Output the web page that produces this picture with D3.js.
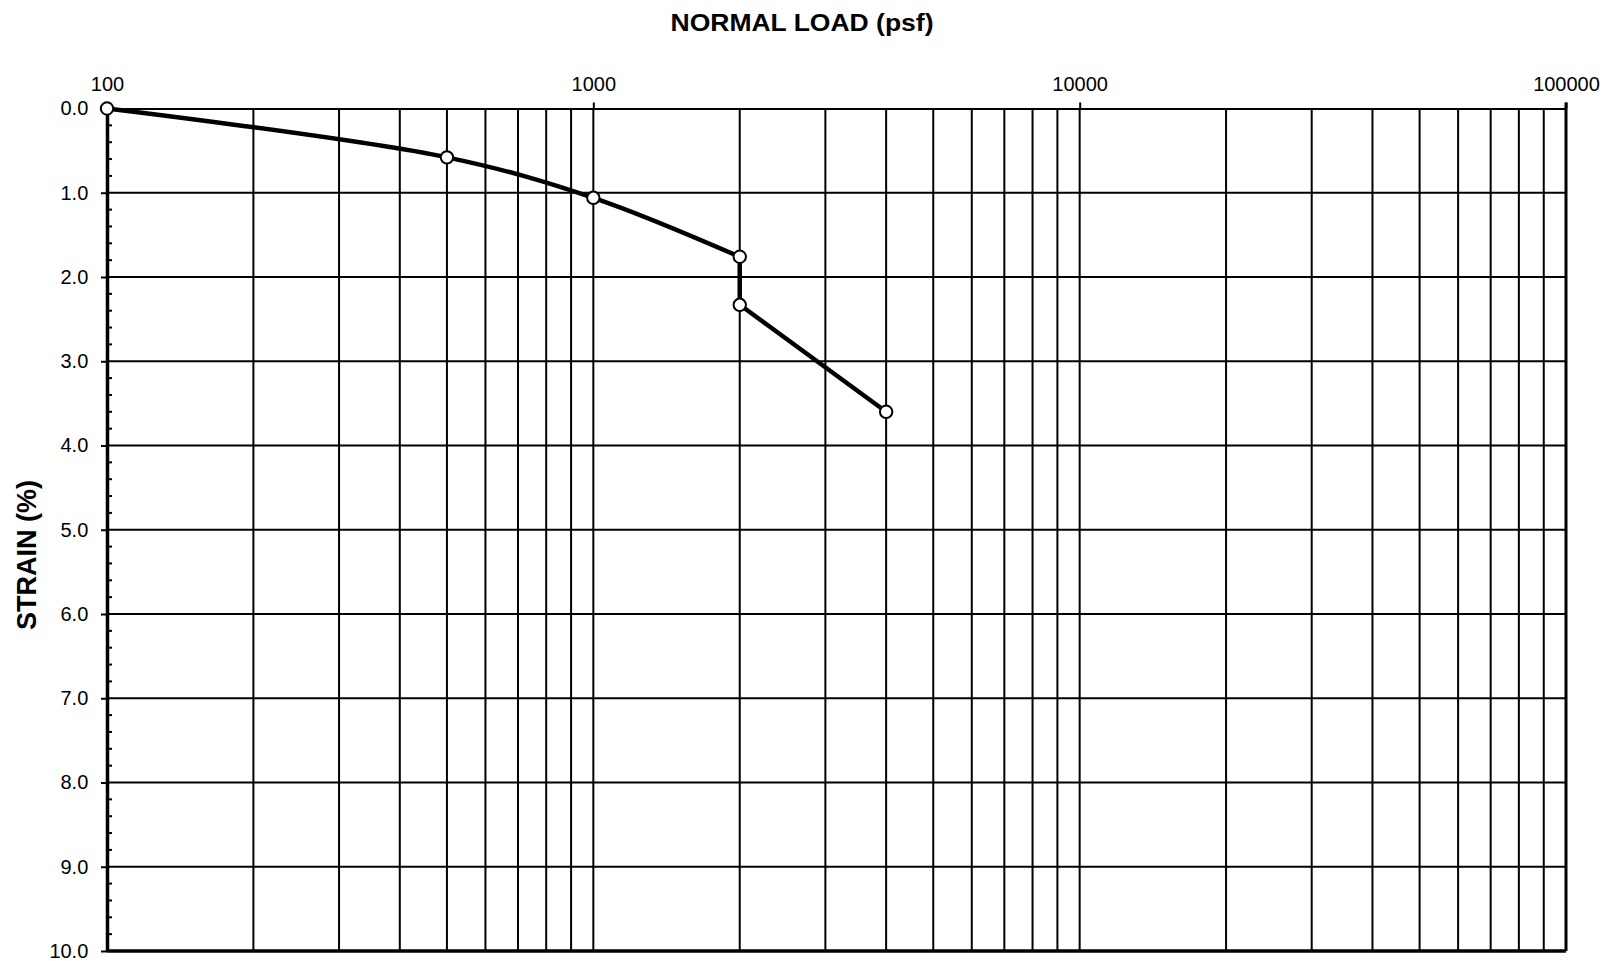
<!DOCTYPE html>
<html>
<head>
<meta charset="utf-8">
<script src="https://cdn.jsdelivr.net/npm/d3@7"></script>
<style>
html,body{margin:0;padding:0;background:#fff;}
svg{display:block;font-family:'Liberation Sans',Arial,sans-serif;}
svg text{font-family:'Liberation Sans',Arial,sans-serif;}
</style>
</head>
<body>
<svg id="chart" width="1612" height="961"></svg>
<script>
// Data
const loads = [100, 500, 1000, 2000, 2000, 4000];
const strains = [0.0, 0.58, 1.06, 1.76, 2.33, 3.60];
const xTickValues = [100, 1000, 10000, 100000];
const yTickValues = [0,1,2,3,4,5,6,7,8,9,10];
const xTitle = "NORMAL LOAD (psf)";
const yTitle = "STRAIN (%)";

(function(){
const svg = d3.select("#chart");
const pL = 107, pR = 1566, pT = 108.5, pB = 951;

const x = d3.scaleLog().domain([100, 100000]).range([pL, pR]);
const y = d3.scaleLinear().domain([0, 10]).range([pT, pB]);

// vertical grid lines (2..9 per decade)
const vGrid = [];
for (let d = 100; d < 100000; d *= 10) {
  for (let k = 2; k <= 9; k++) vGrid.push(d * k);
}
vGrid.push(1000, 10000);
svg.append("g").selectAll("line").data(vGrid).join("line")
  .attr("x1", d => x(d)).attr("x2", d => x(d))
  .attr("y1", pT).attr("y2", pB)
  .attr("stroke", "#000").attr("stroke-width", 2);

// horizontal grid lines
svg.append("g").selectAll("line").data(yTickValues.filter(v => v > 0 && v < 10)).join("line")
  .attr("x1", pL).attr("x2", pR)
  .attr("y1", d => y(d)).attr("y2", d => y(d))
  .attr("stroke", "#000").attr("stroke-width", 2);

// top axis
const xAxis = d3.axisTop(x).tickValues(xTickValues).tickFormat(d3.format("d")).tickSizeInner(6).tickSizeOuter(0).tickPadding(11.5);
const gx = svg.append("g").attr("transform", `translate(0,${pT})`).call(xAxis);
gx.attr("font-family", null).attr("font-size", 20);
gx.select(".domain").attr("stroke-width", 2);
gx.selectAll(".tick line").attr("stroke-width", 2);
gx.selectAll("text").attr("fill", "#000");

// left axis
const yAxis = d3.axisLeft(y).tickValues(yTickValues).tickFormat(d3.format(".1f")).tickSizeInner(6).tickSizeOuter(0).tickPadding(12.7);
const gy = svg.append("g").attr("transform", `translate(${pL},0)`).call(yAxis);
gy.attr("font-family", null).attr("font-size", 20);
gy.select(".domain").attr("stroke-width", 3.5);
gy.selectAll(".tick line").attr("stroke-width", 2);
gy.selectAll("text").attr("fill", "#000");

// minor y ticks (inside)
const minor = d3.range(0, 10.001, 0.2).filter(v => Math.abs(v - Math.round(v)) > 1e-6);
svg.append("g").selectAll("line").data(minor).join("line")
  .attr("x1", pL).attr("x2", pL + 5)
  .attr("y1", d => y(d)).attr("y2", d => y(d))
  .attr("stroke", "#000").attr("stroke-width", 2);

// bottom and right frame
svg.append("line").attr("x1", pL).attr("x2", pR).attr("y1", pB).attr("y2", pB)
  .attr("stroke", "#000").attr("stroke-width", 3.5);
svg.append("line").attr("x1", pR).attr("x2", pR).attr("y1", pT - 6).attr("y2", pB)
  .attr("stroke", "#000").attr("stroke-width", 3);

// data line: smooth while load increases, straight once the load repeats
const pts = loads.map((l, i) => [x(l), y(strains[i])]);
let split = loads.findIndex((l, i) => i > 0 && l === loads[i - 1]);
if (split < 0) split = pts.length;
const smooth = d3.line().curve(d3.curveCatmullRom.alpha(0.5));
const straight = d3.line();
svg.append("path").attr("d", smooth(pts.slice(0, split))).attr("fill", "none")
  .attr("stroke", "#000").attr("stroke-width", 4.5).attr("stroke-linejoin", "round").attr("stroke-linecap", "round");
svg.append("path").attr("d", straight(pts.slice(split - 1))).attr("fill", "none")
  .attr("stroke", "#000").attr("stroke-width", 4.5).attr("stroke-linejoin", "round").attr("stroke-linecap", "round");

svg.append("g").selectAll("circle").data(pts).join("circle")
  .attr("cx", d => d[0]).attr("cy", d => d[1]).attr("r", 6.2)
  .attr("fill", "#fff").attr("stroke", "#000").attr("stroke-width", 2);

// titles
svg.append("text").attr("x", 802).attr("y", 31).attr("text-anchor", "middle")
  .attr("font-size", 24).attr("font-weight", "bold")
  .attr("textLength", 263).attr("lengthAdjust", "spacingAndGlyphs").text(xTitle);
svg.append("text").attr("transform", "translate(36,555) rotate(-90)").attr("text-anchor", "middle")
  .attr("font-size", 27).attr("font-weight", "bold").text(yTitle);
})();
</script>
</body>
</html>
